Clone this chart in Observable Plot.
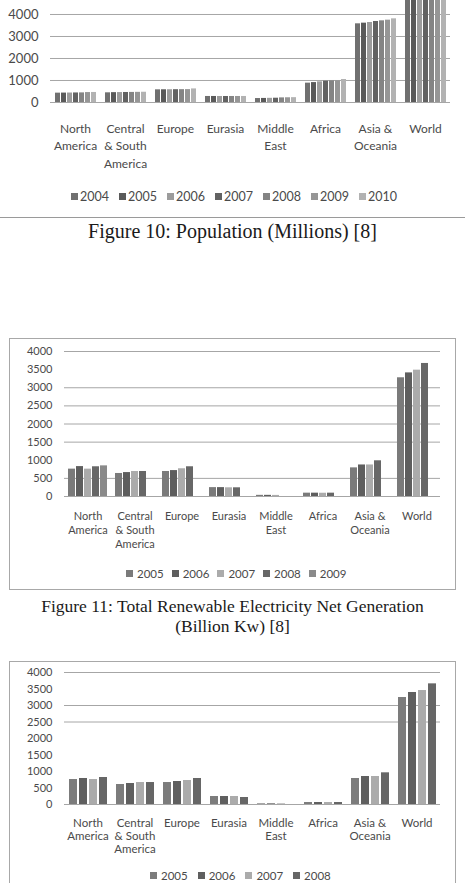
<!DOCTYPE html>
<html>
<head>
<meta charset="utf-8">
<script src="https://cdn.jsdelivr.net/npm/d3@7"></script>
<script src="https://cdn.jsdelivr.net/npm/@observablehq/plot@0.6"></script>
<style>
  html, body { margin: 0; padding: 0; background: #fff; }
  body { position: relative; width: 465px; height: 883px; overflow: hidden; }
  .abs { position: absolute; }
  .frame { position: absolute; box-sizing: border-box; border: 1.5px solid #a8a8a8; }
  .legend { position: absolute; display: flex; align-items: center; font-family: Lato, sans-serif; color: #4a4a4a; white-space: nowrap; }
  .legend .item { display: flex; align-items: center; }
  .legend .sw { display: inline-block; width: 7px; height: 7px; }
  .caption { position: absolute; left: 0; width: 465px; text-align: center; font-family: "Liberation Serif", "Times New Roman", serif; font-size: 17.5px; color: #1a1a1a; }
  .hr { position: absolute; left: 0; width: 465px; height: 0; border-top: 1px solid #9a9a9a; }
</style>
</head>
<body>
<div class="frame" style="left:9px; top:338px; width:447px; height:252px;"></div>
<div class="frame" style="left:9px; top:661px; width:447px; height:300px;"></div>

<div id="chart10" class="abs" style="left:0; top:0;"></div>
<div id="legend10" class="legend" style="left:71px; top:188px; height:16px;"></div>
<div class="hr" style="top:217px;"></div>
<div class="caption" style="top:219px; line-height:24px; font-size:20px;">Figure 10: Population (Millions) [8]</div>

<div id="chart11" class="abs" style="left:0; top:343px;"></div>
<div id="legend11" class="legend" style="left:126px; top:565px; height:16px;"></div>
<div class="caption" style="top:596px; line-height:20px;">Figure 11: Total Renewable Electricity Net Generation<br>(Billion Kw) [8]</div>

<div id="chart12" class="abs" style="left:0; top:664px;"></div>
<div id="legend12" class="legend" style="left:150px; top:867px; height:16px;"></div>

<script>
// Regions shared by the three figures
const regions = ["North America", "Central & South America", "Europe", "Eurasia", "Middle East", "Africa", "Asia & Oceania", "World"];
const regionLabels = ["North\nAmerica", "Central\n& South\nAmerica", "Europe", "Eurasia", "Middle\nEast", "Africa", "Asia &\nOceania", "World"];

// Figure 10: population (millions), one array per year, ordered as `regions`
const popYears = ["2004", "2005", "2006", "2007", "2008", "2009", "2010"];
const popColors = ["#707070", "#5a5a5a", "#9c9c9c", "#626262", "#848484", "#969696", "#b2b2b2"];
const pop2004 = [425, 440, 576, 274, 180, 880, 3576, 6420];
const pop2005 = [428, 448, 578, 274, 185, 905, 3606, 6500];
const pop2006 = [431, 452, 580, 273, 190, 940, 3636, 6580];
const pop2007 = [434, 455, 582, 273, 195, 970, 3682, 6660];
const pop2008 = [437, 458, 584, 273, 210, 985, 3712, 6740];
const pop2009 = [452, 462, 586, 273, 215, 990, 3742, 6820];
const pop2010 = [456, 466, 618, 274, 220, 1045, 3803, 6900];
const popTicks = [0, 1000, 2000, 3000, 4000];
const popGrid = [0, 1000, 2000, 3000, 4000];
const popAxisMax = 4636;

// Figure 11: renewable net generation (billion kWh)
const genYears = ["2005", "2006", "2007", "2008", "2009"];
const genColors = ["#7a7a7a", "#5e5e5e", "#ababab", "#676767", "#8a8a8a"];
const gen2005 = [755, 635, 690, 245, 32, 92, 790, 3275];
const gen2006 = [825, 660, 715, 245, 32, 92, 870, 3410];
const gen2007 = [755, 690, 765, 240, 30, 90, 870, 3485];
const gen2008 = [820, 690, 820, 240, null, 92, 985, 3670];
const gen2009 = [845, null, null, null, null, null, null, null];
const genTicks = [0, 500, 1000, 1500, 2000, 2500, 3000, 3500, 4000];
const genGrid = [0, 500, 1500, 2000, 2500, 3000, 4000];

// Third figure: the same measure for 2005-2008
const gen3Years = ["2005", "2006", "2007", "2008"];
const gen3Colors = ["#7c7c7c", "#5f5f5f", "#ababab", "#666666"];
const gen3_2005 = [757, 606, 666, 242, 20, 60, 788, 3242];
const gen3_2006 = [788, 636, 697, 242, 20, 60, 848, 3394];
const gen3_2007 = [757, 666, 727, 242, 20, 60, 848, 3454];
const gen3_2008 = [818, 666, 788, 212, null, 60, 960, 3656];
const gen3Ticks = [0, 500, 1000, 1500, 2000, 2500, 3000, 3500, 4000];
const gen3Grid = [0, 2500, 3000, 4000];

const labelOf = new Map(regions.map((r, i) => [r, regionLabels[i]]));

function toRows(series, years) {
  return regions.flatMap((region, i) =>
    years.map((year, j) => ({region, year, value: series[j][i]}))
  ).filter(d => d.value != null);
}

// Grouped bar chart: one facet per region, one bar per year inside it
function groupedBars(cfg) {
  const rows = toRows(cfg.series, cfg.years);
  return Plot.plot({
    width: 465,
    height: cfg.height,
    marginTop: cfg.marginTop,
    marginRight: cfg.marginRight,
    marginBottom: cfg.marginBottom,
    marginLeft: cfg.marginLeft,
    style: {fontFamily: "Lato, sans-serif", fontSize: cfg.tickFont + "px", color: "#4a4a4a", background: "transparent"},
    fx: {domain: regions, padding: 0, axis: null, label: null},
    x: {domain: cfg.years, paddingInner: cfg.barPadding, paddingOuter: cfg.groupPadding, axis: null},
    y: {domain: cfg.yDomain, ticks: cfg.yTicks, tickFormat: d3.format("d"), tickSize: 0, tickPadding: cfg.tickPadding, label: null},
    color: {domain: cfg.years, range: cfg.colors},
    marks: [
      Plot.ruleY(cfg.grid, {stroke: "#a6a6a6", strokeWidth: 1}),
      Plot.barY(rows, {fx: "region", x: "year", y: "value", fill: "year", clip: true}),
      Plot.text(regions, {
        fx: d => d,
        text: d => labelOf.get(d),
        frameAnchor: "bottom",
        lineAnchor: "top",
        dy: cfg.labelDy,
        lineHeight: cfg.lineHeight,
        fontSize: cfg.labelFont,
        fill: "#4a4a4a"
      })
    ]
  });
}

function swatches(el, years, colors, fontSize, swGap, itemGap) {
  el.style.fontSize = fontSize + "px";
  el.style.gap = itemGap + "px";
  years.forEach((y, i) => {
    const item = document.createElement("span");
    item.className = "item";
    item.style.gap = swGap + "px";
    const sw = document.createElement("span");
    sw.className = "sw";
    sw.style.background = colors[i];
    const t = document.createElement("span");
    t.textContent = y;
    item.append(sw, t);
    el.append(item);
  });
}

document.getElementById("chart10").append(groupedBars({
  series: [pop2004, pop2005, pop2006, pop2007, pop2008, pop2009, pop2010],
  years: popYears, colors: popColors,
  height: 170, marginTop: 0, marginRight: 13, marginBottom: 68, marginLeft: 47,
  yDomain: [0, popAxisMax], yTicks: popTicks, grid: popGrid,
  barPadding: 0.2, groupPadding: 0.3,
  tickFont: 13, tickPadding: 12,
  labelFont: 12, labelDy: 18, lineHeight: 1.45
}));
swatches(document.getElementById("legend10"), popYears, popColors, 12.5, 2, 10);

document.getElementById("chart11").append(groupedBars({
  series: [gen2005, gen2006, gen2007, gen2008, gen2009],
  years: genYears, colors: genColors,
  height: 213, marginTop: 8, marginRight: 22, marginBottom: 60, marginLeft: 60,
  yDomain: [0, 4000], yTicks: genTicks, grid: genGrid,
  barPadding: 0.15, groupPadding: 0.275,
  tickFont: 11, tickPadding: 12,
  labelFont: 11, labelDy: 14, lineHeight: 1.27
}));
swatches(document.getElementById("legend11"), genYears, genColors, 11.5, 4, 8);

document.getElementById("chart12").append(groupedBars({
  series: [gen3_2005, gen3_2006, gen3_2007, gen3_2008],
  years: gen3Years, colors: gen3Colors,
  height: 200, marginTop: 8, marginRight: 22, marginBottom: 60, marginLeft: 60,
  yDomain: [0, 4000], yTicks: gen3Ticks, grid: gen3Grid,
  barPadding: 0.2, groupPadding: 0.32,
  tickFont: 11, tickPadding: 12,
  labelFont: 11.5, labelDy: 13, lineHeight: 1.13
}));
swatches(document.getElementById("legend12"), gen3Years, gen3Colors, 11.5, 4, 10);
</script>
</body>
</html>
